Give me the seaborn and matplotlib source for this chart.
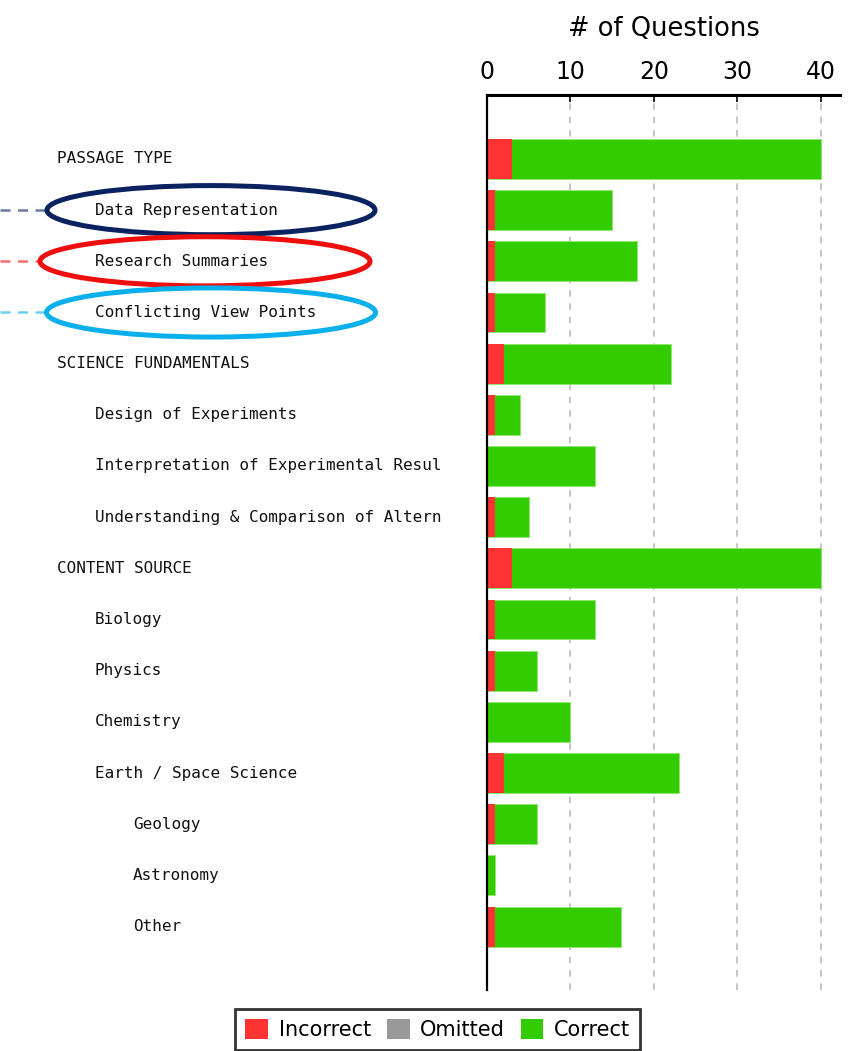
import numpy as np
import pandas as pd
import matplotlib
matplotlib.use("Agg")
import matplotlib.pyplot as plt
import matplotlib.transforms as mtransforms
from matplotlib.patches import Ellipse, Patch
from matplotlib.lines import Line2D
import seaborn as sns

# ---------------- data ----------------
categories = [
    "PASSAGE TYPE", "Data Representation", "Research Summaries", "Conflicting View Points",
    "SCIENCE FUNDAMENTALS", "Design of Experiments", "Interpretation of Experimental Resul",
    "Understanding & Comparison of Altern", "CONTENT SOURCE", "Biology", "Physics",
    "Chemistry", "Earth / Space Science", "Geology", "Astronomy", "Other",
]
levels = [0, 1, 1, 1, 0, 1, 1, 1, 0, 1, 1, 1, 1, 2, 2, 2]
incorrect = [3, 1, 1, 1, 2, 1, 0, 1, 3, 1, 1, 0, 2, 1, 0, 1]
omitted = [0] * 16
correct = [37, 14, 17, 6, 20, 3, 13, 4, 37, 12, 5, 10, 21, 5, 1, 15]
x_ticks = [0, 10, 20, 30, 40]
highlighted = ["Data Representation", "Research Summaries", "Conflicting View Points"]
highlight_colors = ["#0b2260", "#f00d0d", "#0ab0ec"]

df = pd.DataFrame({
    "category": categories,
    "incorrect": incorrect,
    "omitted": omitted,
    "correct": correct,
})
df["inc_om"] = df["incorrect"] + df["omitted"]
df["total"] = df["inc_om"] + df["correct"]

RED, GRAY, GREEN = "#ff3333", "#999999", "#33cc00"

sns.set_theme(style="white")
plt.rcParams["font.family"] = ["DejaVu Sans"]
plt.rcParams["text.color"] = "black"
plt.rcParams["xtick.color"] = "black"
plt.rcParams["axes.labelcolor"] = "black"

fig = plt.figure(figsize=(8.6, 10.51), dpi=100)
ax = fig.add_axes([487 / 860, 1 - 990 / 1051, (840 - 487) / 860, (990 - 95) / 1051])

bw = 0.78
sns.barplot(data=df, x="total", y="category", order=categories, orient="h",
            color=GREEN, width=bw, edgecolor="#8fe86a", linewidth=0.6,
            saturation=1, ax=ax, zorder=3)
sns.barplot(data=df, x="inc_om", y="category", order=categories, orient="h",
            color=GRAY, width=bw, linewidth=0, saturation=1, ax=ax, zorder=4)
sns.barplot(data=df, x="incorrect", y="category", order=categories, orient="h",
            color=RED, width=bw, linewidth=0, saturation=1, ax=ax, zorder=5)

n = len(categories)
ax.set_ylim(n - 1 + 1.24, -1.25)
ax.set_xlim(0, 42.3)
ax.set_ylabel("")
ax.set_yticks([])
ax.xaxis.tick_top()
ax.xaxis.set_label_position("top")
ax.set_xticks(x_ticks)
ax.set_xticklabels([str(t) for t in x_ticks], fontsize=17, color="black")
ax.tick_params(axis="x", direction="in", length=5, width=1.2, color="black", pad=8)
ax.set_xlabel("# of Questions", fontsize=18.5, labelpad=17, color="black")

for s in ["right", "bottom"]:
    ax.spines[s].set_visible(False)
ax.spines["top"].set_color("black")
ax.spines["top"].set_linewidth(2.2)
ax.spines["left"].set_color("black")
ax.spines["left"].set_linewidth(1.6)
ax.spines["left"].set_zorder(6)

for t in x_ticks[1:]:
    ax.axvline(t, color="#bbbbbb", linestyle=(0, (4, 4)), linewidth=1.2, zorder=1)

# category labels (indented, monospace)
trans = mtransforms.blended_transform_factory(fig.transFigure, ax.transData)
indent_px = [57, 95, 133]
for i, (lab, lv) in enumerate(zip(categories, levels)):
    ax.text(indent_px[lv] / 860, i, lab, transform=trans, ha="left", va="center",
            fontsize=11.5, family="DejaVu Sans Mono", color="#111111", clip_on=False)

# highlight ellipses with dashed leaders
ell_specs = {"Data Representation": (211, 328), "Research Summaries": (205, 330),
             "Conflicting View Points": (211, 329)}
for lab, col in zip(highlighted, highlight_colors):
    i = categories.index(lab)
    cx, w = ell_specs[lab]
    e = Ellipse((cx / 860, i), w / 860, 0.96, transform=trans, fill=False,
                edgecolor=col, linewidth=3.6, clip_on=False, zorder=10)
    ax.add_artist(e)
    left_edge = (cx - w / 2) / 860
    ax.add_artist(Line2D([0, left_edge], [i, i], transform=trans, color=col, alpha=0.6,
                         linestyle=(0, (4, 3)), linewidth=1.8, clip_on=False))

handles = [Patch(facecolor=RED, edgecolor="none", label="Incorrect"),
           Patch(facecolor=GRAY, edgecolor="none", label="Omitted"),
           Patch(facecolor=GREEN, edgecolor="none", label="Correct")]
leg = fig.legend(handles=handles, loc="lower center", bbox_to_anchor=(0.509, 0.0005),
                 ncol=3, fontsize=15, frameon=True, fancybox=False,
                 handlelength=1.1, handleheight=1.1, handletextpad=0.5,
                 columnspacing=0.75, borderpad=0.5, borderaxespad=0)
leg.get_frame().set_edgecolor("black")
leg.get_frame().set_linewidth(2)
for t in leg.get_texts():
    t.set_color("black")

fig.savefig("out.png", dpi=100, facecolor="white")
